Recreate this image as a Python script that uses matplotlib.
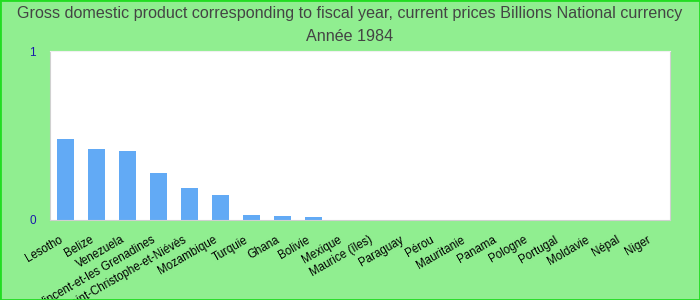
import matplotlib.pyplot as plt
import matplotlib.transforms as mtransforms
import numpy as np

plt.rcParams['font.family'] = ['Liberation Sans', 'DejaVu Sans']

# données
pays = ["Lesotho", "Belize", "Venezuela", "Saint-Vincent-et-les Grenadines",
        "Saint-Christophe-et-Niévès", "Mozambique", "Turquie", "Ghana", "Bolivie",
        "Mexique", "Maurice (îles)", "Paraguay", "Pérou", "Mauritanie", "Panama",
        "Pologne", "Portugal", "Moldavie", "Népal", "Niger"]
valeurs = [0.479, 0.42, 0.408, 0.278, 0.189, 0.148, 0.03, 0.024, 0.018,
           0.001, 0.0005, 0.0003, 0.0002, 0.0001, 0.0001, 0.0001, 0.0, 0.0, 0.0, 0.0]
yticks = [0, 1]

fig = plt.figure(figsize=(7, 3), dpi=100, facecolor="#90ee90")
fig.patches.append(plt.Rectangle((0, 0), 1, 1, transform=fig.transFigure,
                                 fill=False, edgecolor="#22dd22", linewidth=2))
ax = fig.add_axes([50 / 700, 1 - 220 / 300, 620 / 700, 169 / 300])

x = np.arange(len(pays))
ax.bar(x, valeurs, width=0.55, color="#62aaf5")
ax.set_xlim(-0.5, len(pays) - 0.5)
ax.set_ylim(0, 1)
ax.set_yticks(yticks)
ax.set_yticklabels([str(v) for v in yticks], color="#1a1aaa", fontsize=8.5)
ax.set_xticks(x)
ax.set_xticklabels(pays, rotation=30, ha="right", rotation_mode="anchor", fontsize=8.3)
ax.tick_params(length=0, pad=10)
ax.tick_params(axis="x", pad=10)
# décalage vers la gauche des étiquettes
decal = mtransforms.ScaledTranslation(-7 / 100, 0, fig.dpi_scale_trans)
for lbl in ax.get_xticklabels():
    lbl.set_transform(lbl.get_transform() + decal)
for s in ax.spines.values():
    s.set_color("#d0d0d0")
ax.spines["top"].set_color("#f0f0f0")

fig.text(0.5, 0.955, "Gross domestic product corresponding to fiscal year, current prices Billions National currency",
         ha="center", va="center", fontsize=11.6, color="#444444")
fig.text(0.5, 0.878, "Année 1984", ha="center", va="center", fontsize=11.6, color="#444444")

fig.savefig("out.png", dpi=100, facecolor=fig.get_facecolor())
